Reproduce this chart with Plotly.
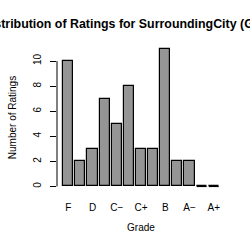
import plotly.graph_objects as go

grades = ["F", "D−", "D", "D+", "C−", "C", "C+", "B−", "B", "B+", "A−", "A", "A+"]
counts = [10, 2, 3, 7, 5, 8, 3, 3, 11, 2, 2, 0, 0]
shown_labels = ["F", "D", "C−", "C+", "B", "A−", "A+"]
y_ticks = [0, 2, 4, 6, 8, 10]

bar_w = 1 / 1.2
idx = list(range(len(grades)))
tickvals = [i for i, g in enumerate(grades) if g in shown_labels]
ticktext = [grades[i] for i in tickvals]

FONT = "Liberation Sans, Arial, Helvetica, sans-serif"

fig = go.Figure()
fig.add_trace(go.Bar(
    x=idx, y=counts, width=bar_w,
    marker=dict(color="#9c9c9c", line=dict(color="black", width=1.2),
                pattern=dict(shape=".", size=2, solidity=0.5, fgcolor="#6e6e6e", bgcolor="#b4b4b4", fillmode="replace")),
    showlegend=False, hoverinfo="skip",
))
# zero-count bars drawn as baseline segments (like R)
for i, c in zip(idx, counts):
    if c == 0:
        fig.add_trace(go.Scatter(x=[i - bar_w / 2, i + bar_w / 2], y=[c, c], mode="lines",
                                 line=dict(color="black", width=1.2), showlegend=False, hoverinfo="skip"))

fig.add_shape(type="line", xref="paper", x0=0, x1=0, yref="y", y0=y_ticks[0], y1=y_ticks[-1],
              line=dict(color="black", width=1))

fig.update_layout(
    width=250, height=250,
    margin=dict(l=49, r=25, t=43, b=58),
    paper_bgcolor="white", plot_bgcolor="white",
    font=dict(family=FONT, color="black", size=10),
    title=dict(text="<b>Distribution of Ratings for SurroundingCity (Grade)</b>",
               x=0.532, xref="container", xanchor="center", y=1 - 24 / 250, yanchor="middle",
               font=dict(size=12.4, family=FONT)),
    bargap=0,
)
fig.update_xaxes(range=[-0.93, 12.93], tickvals=tickvals, ticktext=ticktext, showgrid=False,
                 zeroline=False, showline=False, ticks="", tickfont=dict(size=10),
                 ticklabelstandoff=8,
                 title=dict(text="Grade", font=dict(size=10), standoff=11))
fig.update_yaxes(range=[-0.44, 11.44], tickvals=y_ticks, showgrid=False, zeroline=False,
                 showline=False, ticks="outside", ticklen=6, tickcolor="black", tickwidth=1,
                 tickangle=-90, tickfont=dict(size=10), ticklabelstandoff=5,
                 title=dict(text="Number of Ratings", font=dict(size=10), standoff=13))

fig.write_html("out.html")
